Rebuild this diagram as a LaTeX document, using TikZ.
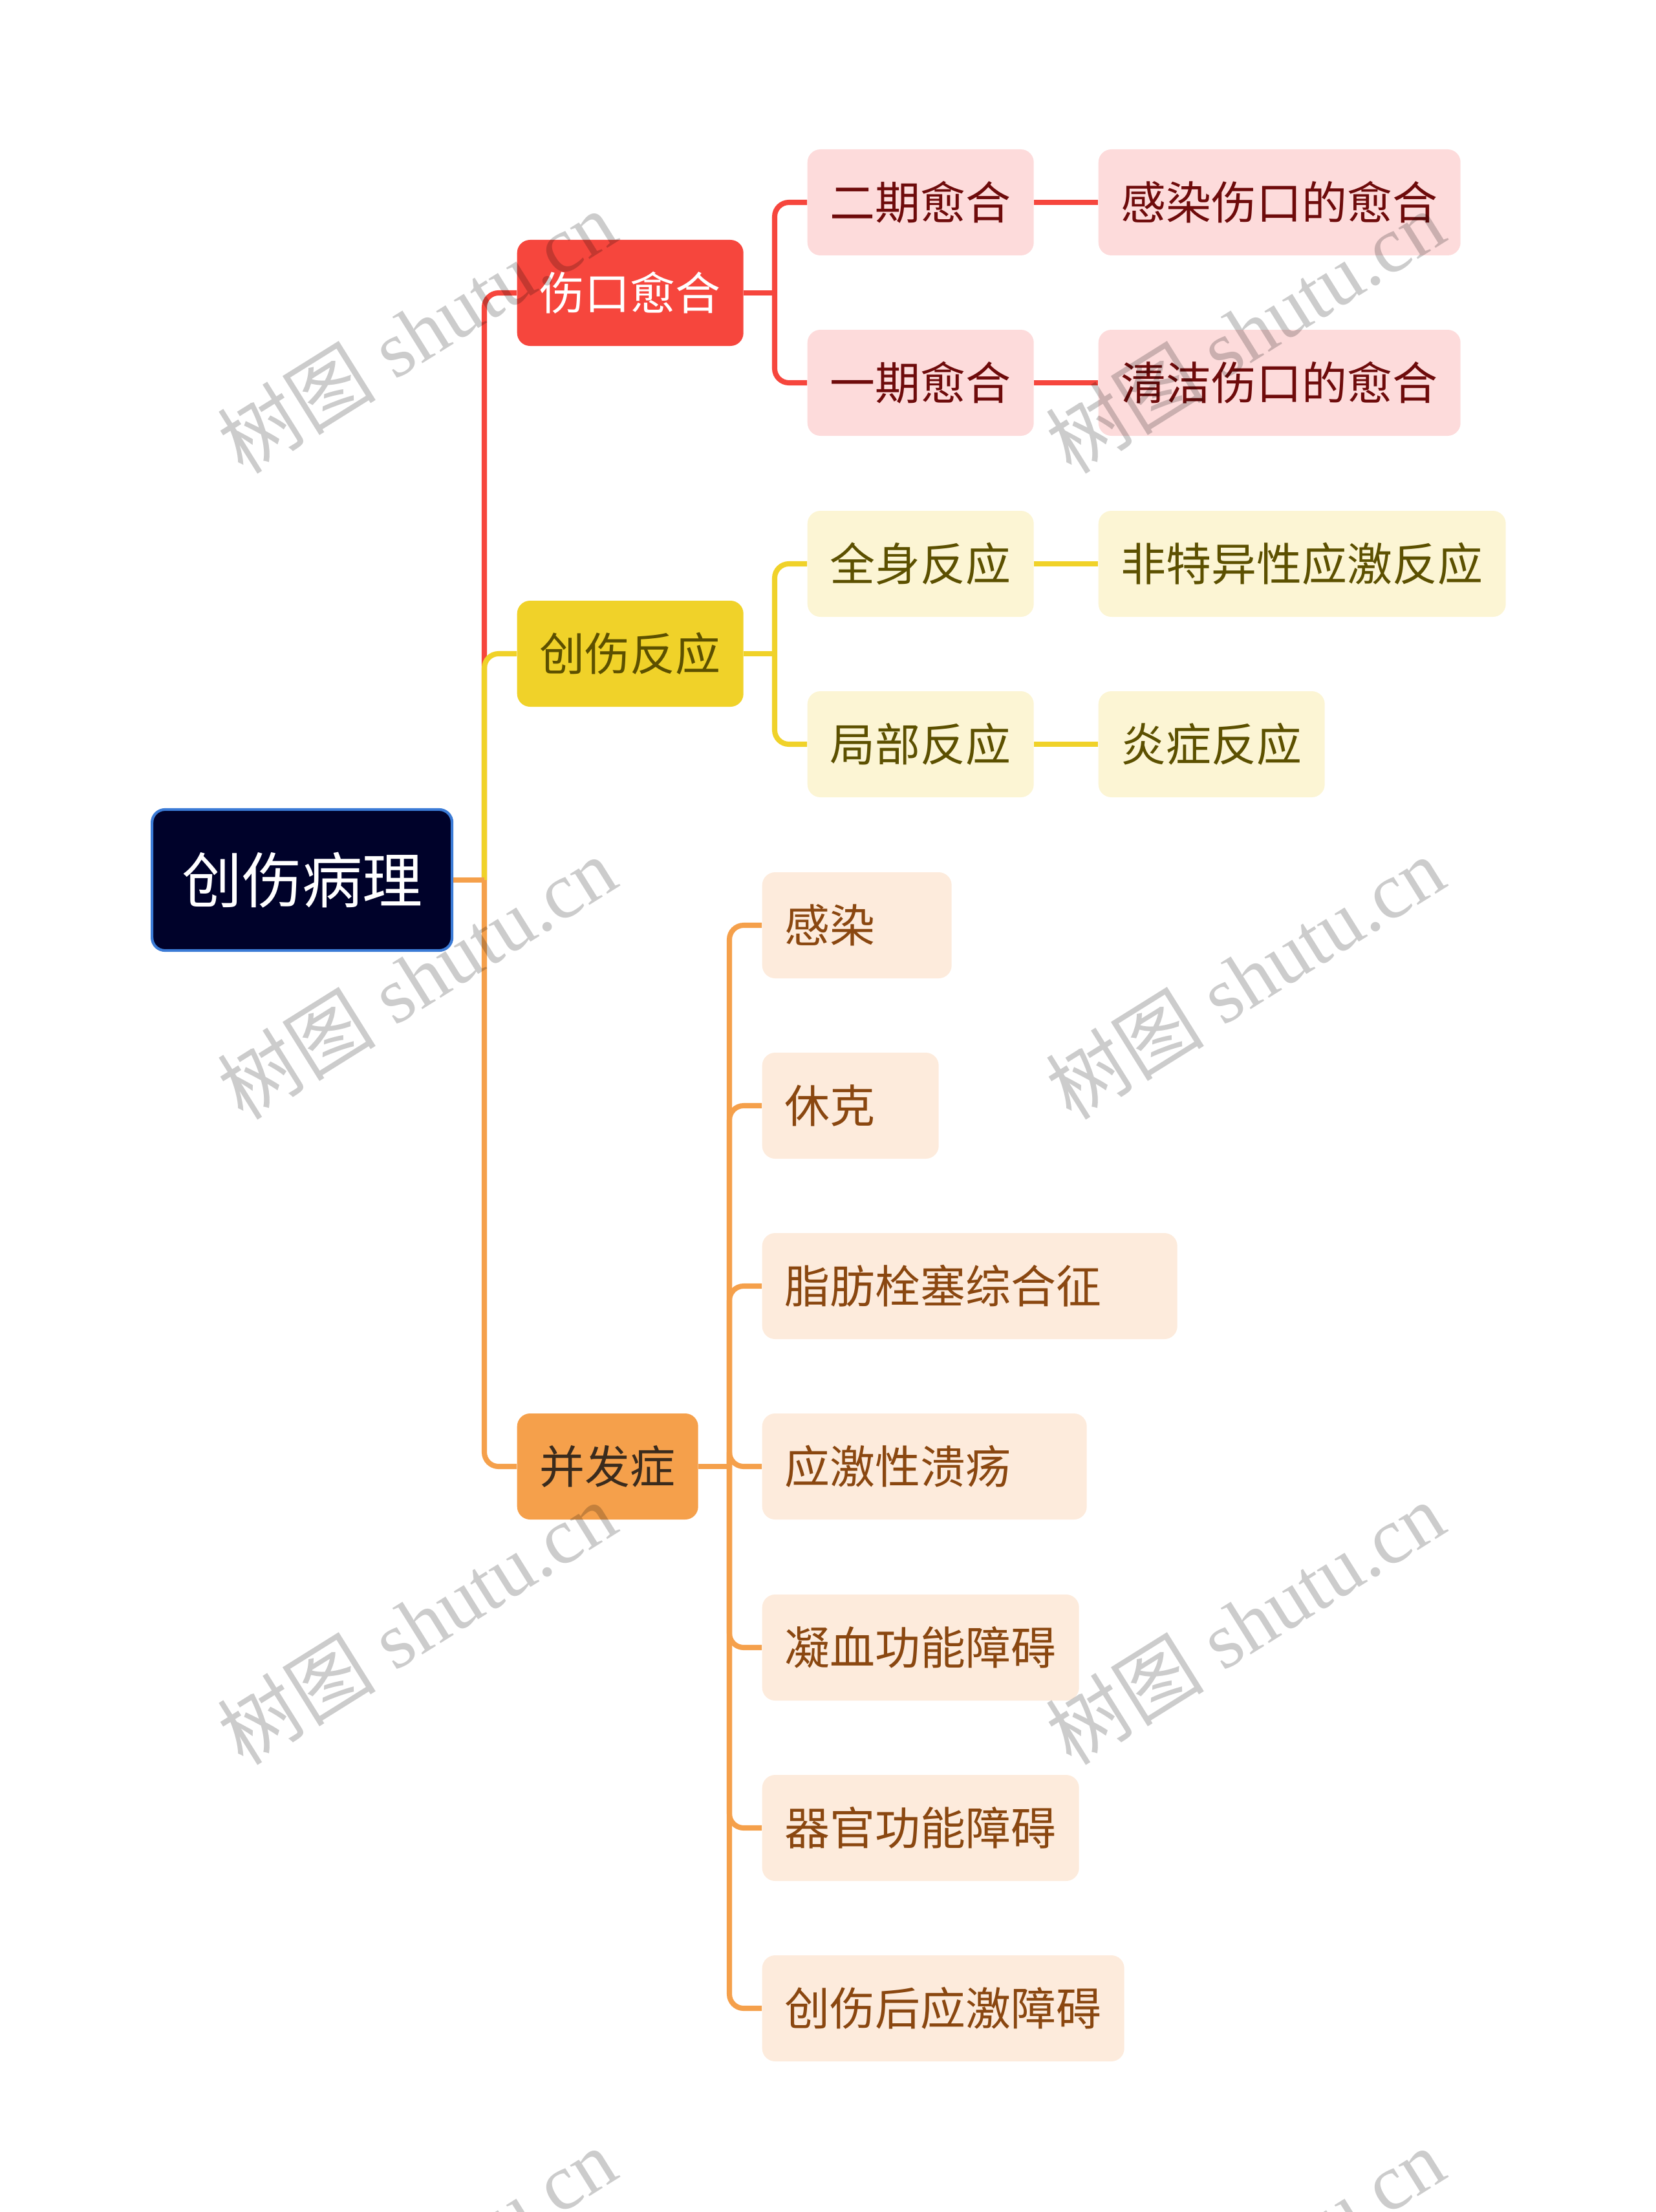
\documentclass[tikz,border=0pt]{standalone}
\usepackage{fontspec}
\setmainfont{Liberation Serif}
\newfontfamily\cjk{Noto Sans CJK SC}

\definecolor{rootfill}{HTML}{00022A}
\definecolor{rootline}{HTML}{3B7BD6}
\definecolor{redmain}{HTML}{F6463D}
\definecolor{redlight}{HTML}{FDDBDB}
\definecolor{redtext}{HTML}{6E0B0B}
\definecolor{yelmain}{HTML}{F0D229}
\definecolor{yellight}{HTML}{FCF5D4}
\definecolor{yeltext}{HTML}{5C5000}
\definecolor{ormain}{HTML}{F5A04B}
\definecolor{orlight}{HTML}{FDEBDC}
\definecolor{ortext}{HTML}{8A4710}
\definecolor{ordark}{HTML}{3A2B1D}

\tikzset{
  box/.style={rounded corners=0.2cm, anchor=west, inner xsep=0.35cm, inner ysep=0pt,
    minimum height=1.64cm, align=left, font=\cjk\fontsize{19.9pt}{24pt}\selectfont},
  rootbox/.style={box, fill=rootfill, draw=rootline, line width=1.2pt, text=white,
    inner xsep=0.46cm, minimum height=2.18cm, font=\cjk\fontsize{26.5pt}{30pt}\selectfont},
  redbox/.style={box, fill=redmain, text=white},
  redleaf/.style={box, fill=redlight, text=redtext},
  yelbox/.style={box, fill=yelmain, text=yeltext},
  yelleaf/.style={box, fill=yellight, text=yeltext},
  orbox/.style={box, fill=ormain, text=ordark},
  orleaf/.style={box, fill=orlight, text=ortext},
  redline/.style={draw=redmain, line width=2.3pt, rounded corners=0.22cm},
  yelline/.style={draw=yelmain, line width=2.3pt, rounded corners=0.22cm},
  orline/.style={draw=ormain, line width=2.3pt, rounded corners=0.22cm},
  wmark/.style={text=black, text opacity=0.2, font=\fontsize{35pt}{40pt}\selectfont, rotate=32}
}

\begin{document}
\begin{tikzpicture}
\useasboundingbox (0,0) rectangle (25.6,-34.21);

% root
\node[rootbox, text width=3.72cm] (root) at (2.33,-13.61) {创伤病理};

% first level
\node[redbox, text width=2.8cm] (wound) at (7.99,-4.53) {伤口愈合};
\node[yelbox, text width=2.8cm] (react) at (7.99,-10.11) {创伤反应};
\node[orbox, text width=2.1cm] (compl) at (7.99,-22.68) {并发症};

% wound healing
\node[redleaf, text width=2.8cm] (heal2) at (12.48,-3.13) {二期愈合};
\node[redleaf, text width=2.8cm] (heal1) at (12.48,-5.92) {一期愈合};
\node[redleaf, text width=4.9cm] (infect) at (16.98,-3.13) {感染伤口的愈合};
\node[redleaf, text width=4.9cm] (clean) at (16.98,-5.92) {清洁伤口的愈合};

% reactions
\node[yelleaf, text width=2.8cm] (whole) at (12.48,-8.72) {全身反应};
\node[yelleaf, text width=2.8cm] (local) at (12.48,-11.51) {局部反应};
\node[yelleaf, text width=5.6cm] (stress) at (16.98,-8.72) {非特异性应激反应};
\node[yelleaf, text width=2.8cm] (inflam) at (16.98,-11.51) {炎症反应};

% complications
\node[orleaf, text width=2.23cm] (c1) at (11.78,-14.31) {感染};
\node[orleaf, text width=2.03cm] (c2) at (11.78,-17.10) {休克};
\node[orleaf, text width=5.72cm] (c3) at (11.78,-19.89) {脂肪栓塞综合征};
\node[orleaf, text width=4.32cm] (c4) at (11.78,-22.68) {应激性溃疡};
\node[orleaf, text width=4.2cm] (c5) at (11.78,-25.48) {凝血功能障碍};
\node[orleaf, text width=4.2cm] (c6) at (11.78,-28.27) {器官功能障碍};
\node[orleaf, text width=4.9cm] (c7) at (11.78,-31.06) {创伤后应激障碍};

% junctions
\coordinate (rj) at (7.49,-13.61);
\coordinate (wj) at (11.98,-4.53);
\coordinate (tj) at (11.98,-10.11);
\coordinate (cj) at (11.28,-22.68);

% connectors
\draw[redline] (rj) |- (wound.west);
\draw[yelline] (rj) |- (react.west);
\draw[orline] (rj) |- (compl.west);
\draw[orline] (root.east) -- (rj);

\draw[redline] (wound.east) -- (wj);
\draw[redline] (wj) |- (heal2.west);
\draw[redline] (wj) |- (heal1.west);
\draw[redline] (heal2.east) -- (infect.west);
\draw[redline] (heal1.east) -- (clean.west);

\draw[yelline] (react.east) -- (tj);
\draw[yelline] (tj) |- (whole.west);
\draw[yelline] (tj) |- (local.west);
\draw[yelline] (whole.east) -- (stress.west);
\draw[yelline] (local.east) -- (inflam.west);

\draw[orline] (compl.east) -- (cj);
\foreach \c in {c1,c2,c3,c4,c5,c6,c7}
  \draw[orline] (cj) |- (\c.west);

% watermarks
\foreach \wx in {6.44,19.25}
  \foreach \wy in {-5.13,-15.12,-25.10,-35.09}
    \node[wmark] at (\wx,\wy) {{\cjk 树图} shutu.cn};
\end{tikzpicture}
\end{document}
